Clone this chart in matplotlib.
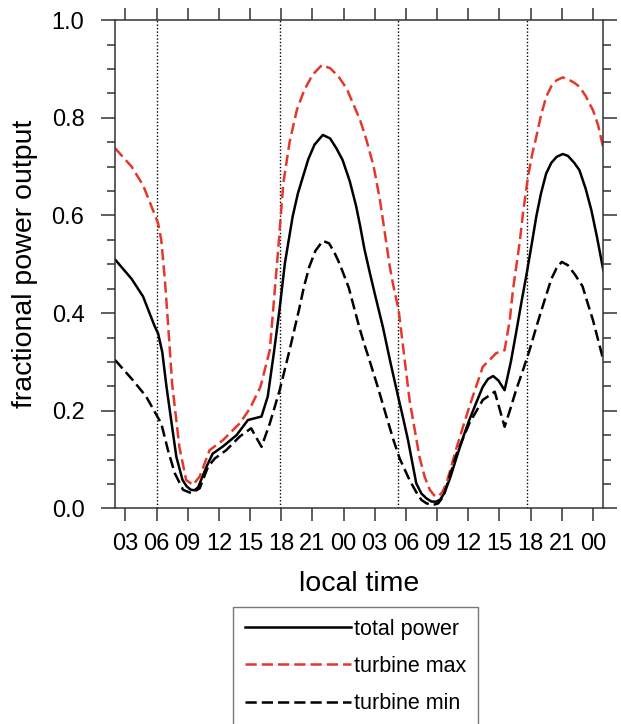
import numpy as np
import matplotlib.pyplot as plt
from matplotlib.ticker import MultipleLocator

plt.rcParams['font.family'] = ['Liberation Sans', 'DejaVu Sans']

# hours since midnight of day 1 (local time)
total_hours = [2.0, 3.6, 4.7, 5.8, 6.15, 6.55, 6.95, 7.45, 7.9, 8.5, 8.9, 9.3,
               9.65, 10.0, 10.8, 11.4, 12.4, 13.7, 14.8, 16.1, 16.7, 17.3,
               17.85, 18.35, 19.1, 19.6, 20.1, 20.6, 21.2, 22.0, 22.7, 23.3,
               23.9, 24.6, 25.2, 25.6, 26.0, 26.5, 27.0, 27.8, 28.5, 29.25,
               29.7, 30.2, 31.0, 31.5, 32.0, 32.45, 32.9, 33.3, 33.7, 34.3,
               34.9, 35.5, 36.1, 36.8, 37.4, 37.9, 38.4, 38.9, 39.5, 40.1,
               40.6, 41.1, 41.6, 42.1, 42.55, 43.0, 43.5, 44.0, 44.5, 45.1,
               45.6, 46.2, 46.7, 47.3, 47.85, 48.4, 49.0]
total_power = [0.510, 0.470, 0.434, 0.374, 0.358, 0.320, 0.250, 0.174, 0.106,
               0.058, 0.045, 0.038, 0.037, 0.043, 0.085, 0.112, 0.127, 0.150,
               0.181, 0.188, 0.229, 0.320, 0.410, 0.502, 0.598, 0.645, 0.680,
               0.715, 0.745, 0.765, 0.758, 0.738, 0.714, 0.670, 0.620, 0.578,
               0.532, 0.485, 0.440, 0.370, 0.300, 0.229, 0.188, 0.140, 0.051,
               0.030, 0.020, 0.014, 0.0135, 0.018, 0.031, 0.065, 0.106, 0.145,
               0.181, 0.218, 0.249, 0.265, 0.271, 0.262, 0.242, 0.300, 0.359,
               0.420, 0.478, 0.540, 0.598, 0.645, 0.686, 0.708, 0.720, 0.726,
               0.722, 0.708, 0.693, 0.655, 0.611, 0.555, 0.488]

max_hours = [2.0, 3.6, 4.7, 5.65, 6.15, 6.45, 6.8, 7.1, 7.5, 8.2, 8.85, 9.5,
             10.15, 11.1, 12.4, 14.0, 15.0, 16.0, 16.9, 17.7, 18.2, 18.8,
             19.5, 20.2, 21.0, 21.9, 22.7, 23.5, 24.3, 25.0, 25.6, 26.2, 26.9,
             27.5, 28.0, 28.45, 28.8, 29.3, 30.35, 31.3, 31.8, 32.3, 32.7,
             33.1, 33.5, 33.9, 34.9, 36.1, 37.4, 38.7, 39.5, 40.0, 40.3,
             40.95, 41.3, 41.75, 42.15, 42.55, 43.0, 43.5, 44.0, 44.5, 45.1,
             45.7, 46.2, 46.7, 47.3, 47.7, 48.0, 48.5, 49.0]
turbine_max = [0.738, 0.700, 0.662, 0.611, 0.584, 0.550, 0.468, 0.380, 0.255,
               0.125, 0.058, 0.048, 0.065, 0.119, 0.140, 0.174, 0.205, 0.249,
               0.324, 0.529, 0.666, 0.750, 0.816, 0.856, 0.888, 0.908, 0.902,
               0.885, 0.860, 0.825, 0.795, 0.755, 0.700, 0.632, 0.560, 0.495,
               0.455, 0.406, 0.222, 0.106, 0.065, 0.038, 0.027, 0.024, 0.033,
               0.051, 0.126, 0.208, 0.290, 0.318, 0.324, 0.386, 0.447, 0.545,
               0.610, 0.679, 0.725, 0.761, 0.805, 0.843, 0.865, 0.877, 0.883,
               0.878, 0.872, 0.864, 0.845, 0.828, 0.816, 0.785, 0.738]

min_hours = [2.0, 3.7, 5.0, 6.0, 6.45, 7.1, 7.75, 8.55, 9.35, 10.15, 10.95,
             11.6, 12.7, 14.0, 15.1, 16.1, 16.9, 17.85, 18.8, 19.7, 20.2,
             20.7, 21.3, 22.0, 22.6, 23.1, 23.6, 24.0, 24.5, 24.9, 25.5, 26.0,
             26.5, 27.3, 28.1, 28.8, 29.4, 30.35, 31.0, 31.5, 32.0, 32.6,
             33.1, 33.6, 34.9, 36.1, 37.4, 38.55, 39.5, 40.0, 40.6, 41.3,
             41.9, 42.6, 43.4, 44.0, 44.5, 45.0, 45.6, 46.3, 47.0, 47.5, 48.0,
             48.5, 49.0]
turbine_min = [0.304, 0.263, 0.229, 0.191, 0.174, 0.119, 0.072, 0.038, 0.031,
               0.041, 0.085, 0.102, 0.119, 0.147, 0.164, 0.126, 0.174, 0.242,
               0.324, 0.406, 0.455, 0.495, 0.528, 0.548, 0.543, 0.525, 0.502,
               0.480, 0.452, 0.420, 0.372, 0.336, 0.303, 0.248, 0.190, 0.140,
               0.102, 0.058, 0.033, 0.017, 0.010, 0.007, 0.010, 0.024, 0.113,
               0.174, 0.222, 0.239, 0.167, 0.200, 0.242, 0.285, 0.324, 0.375,
               0.430, 0.470, 0.492, 0.505, 0.498, 0.478, 0.455, 0.420, 0.386,
               0.345, 0.304]

# sunrise / sunset
sun_lines = [6.0, 17.9, 29.27, 41.63]

tick_hours = list(range(3, 49, 3))
tick_labels = ['03', '06', '09', '12', '15', '18', '21', '00',
               '03', '06', '09', '12', '15', '18', '21', '00']

red = '#e3382b'

fig = plt.figure(figsize=(6.21, 7.24), dpi=100)
ax = fig.add_axes([0.1852, 0.2979, 0.7863, 0.6741])

for h in sun_lines:
    ax.axvline(h, color='black', lw=1.0, linestyle=(0, (1, 1.5)), zorder=1)

ax.plot(total_hours, total_power, color='black', lw=1.8, label='total power')
ax.plot(max_hours, turbine_max, color=red, lw=1.8, dashes=(4.5, 2),
        label='turbine max')
ax.plot(min_hours, turbine_min, color='black', lw=1.8, dashes=(4.5, 2),
        label='turbine min')

ax.set_xlim(2, 49)
ax.set_ylim(0, 1)
ax.set_xticks(tick_hours)
ax.set_xticklabels(tick_labels)
ax.yaxis.set_minor_locator(MultipleLocator(0.05))
ax.set_yticks([0, 0.2, 0.4, 0.6, 0.8, 1.0])
ax.set_yticklabels(['0.0', '0.2', '0.4', '0.6', '0.8', '1.0'])

for s in ax.spines.values():
    s.set_linewidth(1.1)
    s.set_color('#333333')

ax.tick_params(axis='both', which='both', direction='out', top=True,
               right=True, color='#333333', width=1.1, labelsize=17)
ax.tick_params(axis='x', which='major', length=9, pad=9)
ax.tick_params(axis='y', which='major', length=10, pad=12)
ax.tick_params(axis='y', which='minor', length=5.5)

ax.set_xlabel('local time', fontsize=20.5, labelpad=11)
ax.set_ylabel('fractional power output', fontsize=20.5, labelpad=10)

leg = fig.legend(loc='upper center', bbox_to_anchor=(0.5725, 0.1616),
                 fontsize=15.5, handlelength=4.9, handletextpad=0.15,
                 labelspacing=0.75, borderpad=0.55, fancybox=False,
                 borderaxespad=0)
leg.get_frame().set_edgecolor('#555555')
leg.get_frame().set_linewidth(1.0)

fig.savefig('out.png', dpi=100)
